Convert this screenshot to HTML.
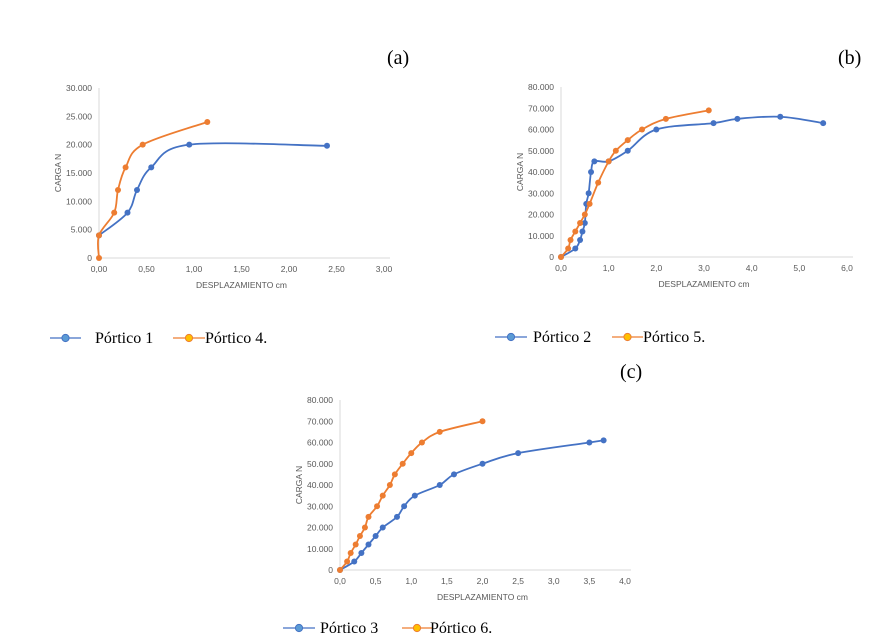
<!DOCTYPE html>
<html><head><meta charset="utf-8">
<style>
body{margin:0;background:#fff;width:894px;height:642px;overflow:hidden;}
svg{display:block;}
.tick{font-family:"Liberation Sans",sans-serif;font-size:8.5px;fill:#595959;}
.ttl{font-family:"Liberation Sans",sans-serif;font-size:8.5px;fill:#595959;}
.leg{font-family:"Liberation Serif",serif;font-size:16px;fill:#000;}
.lab{font-family:"Liberation Serif",serif;font-size:20px;fill:#000;}
</style></head>
<body>
<svg id="s" width="894" height="642">
<text class="lab" x="387" y="64">(a)</text>
<text class="lab" x="838" y="64">(b)</text>
<text class="lab" x="620" y="378">(c)</text>
</svg>
<script>
const BLUE="#4472C4", ORANGE="#ED7D31";
// Chart a
const aXTicks=["0,00","0,50","1,00","1,50","2,00","2,50","3,00"];
const aYTicks=["0","5.000","10.000","15.000","20.000","25.000","30.000"];
const p1x=[0,0.3,0.4,0.55,0.95,2.4];
const p1y=[4000,8000,12000,16000,20000,19800];
const p4x=[0,0,0.16,0.2,0.28,0.46,1.14];
const p4y=[0,4000,8000,12000,16000,20000,24000];
// Chart b
const bXTicks=["0,0","1,0","2,0","3,0","4,0","5,0","6,0"];
const bYTicks=["0","10.000","20.000","30.000","40.000","50.000","60.000","70.000","80.000"];
const p2x=[0,0.3,0.4,0.45,0.5,0.53,0.58,0.63,0.7,1.0,1.4,2.0,3.2,3.7,4.6,5.5];
const p2y=[0,4000,8000,12000,16000,25000,30000,40000,45000,45000,50000,60000,63000,65000,66000,63000];
const p5x=[0,0.15,0.2,0.3,0.4,0.5,0.6,0.78,1.0,1.15,1.4,1.7,2.2,3.1];
const p5y=[0,4000,8000,12000,16000,20000,25000,35000,45000,50000,55000,60000,65000,69000];
// Chart c
const cXTicks=["0,0","0,5","1,0","1,5","2,0","2,5","3,0","3,5","4,0"];
const cYTicks=bYTicks;
const p3x=[0,0.2,0.3,0.4,0.5,0.6,0.8,0.9,1.05,1.4,1.6,2.0,2.5,3.5,3.7];
const p3y=[0,4000,8000,12000,16000,20000,25000,30000,35000,40000,45000,50000,55000,60000,61000];
const p6x=[0,0.1,0.15,0.22,0.28,0.35,0.4,0.52,0.6,0.7,0.77,0.88,1.0,1.15,1.4,2.0];
const p6y=[0,4000,8000,12000,16000,20000,25000,30000,35000,40000,45000,50000,55000,60000,65000,70000];

const svg=document.getElementById('s');
const NS="http://www.w3.org/2000/svg";
function mk(tag,attrs,parent){const e=document.createElementNS(NS,tag);for(const k in attrs)e.setAttribute(k,attrs[k]);(parent||svg).appendChild(e);return e;}
function smooth(pts){
  let d="M"+pts[0][0]+","+pts[0][1];
  for(let i=0;i<pts.length-1;i++){
    const p0=pts[i-1]||pts[i],p1=pts[i],p2=pts[i+1],p3=pts[i+2]||p2;
    const t=0.17;
    const c1=[p1[0]+(p2[0]-p0[0])*t,p1[1]+(p2[1]-p0[1])*t];
    const c2=[p2[0]-(p3[0]-p1[0])*t,p2[1]-(p3[1]-p1[1])*t];
    d+=" C"+c1[0]+","+c1[1]+" "+c2[0]+","+c2[1]+" "+p2[0]+","+p2[1];
  }
  return d;
}
function chart(name,x0,x1,y0,y1,xmax,ymax,xt,yt,series,titleX,titleY){
  const g=mk('g',{});
  
  
  const sx=v=>x0+(x1-x0)*v/xmax, sy=v=>y0-(y0-y1)*v/ymax;
  const ya=mk('line',{x1:x0,y1:y0,x2:x0,y2:y1,stroke:"#d9d9d9","stroke-width":1},g);
  
  
  const xa=mk('line',{x1:x0,y1:y0,x2:x1+6,y2:y0,stroke:"#d9d9d9","stroke-width":1},g);
  
  
  xt.forEach((s,i)=>{const t=mk('text',{class:'tick',x:x0+(x1-x0)*i/(xt.length-1),y:y0+14,'text-anchor':'middle'},g);t.textContent=s;
    
    });
  yt.forEach((s,i)=>{const t=mk('text',{class:'tick',x:x0-7,y:y0-(y0-y1)*i/(yt.length-1)+3,'text-anchor':'end'},g);t.textContent=s;
    
    });
  const tx=mk('text',{class:'ttl',x:(x0+x1)/2,y:y0+30,'text-anchor':'middle'},g);tx.textContent=titleX;
  
  
  const cy=(y0+y1)/2;
  const ty=mk('text',{class:'ttl',x:x0-38,y:cy,'text-anchor':'middle',transform:`rotate(-90 ${x0-38} ${cy})`},g);ty.textContent=titleY;
  
  
  series.forEach(s=>{
    const pts=s.x.map((v,i)=>[sx(v),sy(s.y[i])]);
    const p=mk('path',{d:smooth(pts),fill:'none',stroke:s.c,'stroke-width':1.8},g);
    
    
    pts.forEach(q=>{const c=mk('circle',{cx:q[0],cy:q[1],r:3,fill:s.c},g);
      
      });
  });
}
function legend(items,y){
  items.forEach(it=>{
    const g=mk('g',{});
    
    
    mk('line',{x1:it.l0,y1:y,x2:it.l1,y2:y,stroke:it.c,'stroke-width':1.3},g);
    mk('circle',{cx:(it.l0+it.l1)/2,cy:y,r:3.6,fill:it.f,stroke:it.c,'stroke-width':1},g);
    const t=mk('text',{class:'leg',x:it.tx,y:y+5},g);t.textContent=it.t;
  });
}
chart('chart-a',99,384,258,88,3,30000,aXTicks,aYTicks,[{x:p1x,y:p1y,c:BLUE,n:'portico-1'},{x:p4x,y:p4y,c:ORANGE,n:'portico-4'}],'DESPLAZAMIENTO  cm','CARGA N');
chart('chart-b',561,847,257,87,6,80000,bXTicks,bYTicks,[{x:p2x,y:p2y,c:BLUE,n:'portico-2'},{x:p5x,y:p5y,c:ORANGE,n:'portico-5'}],'DESPLAZAMIENTO  cm','CARGA N');
chart('chart-c',340,625,570,400,4,80000,cXTicks,cYTicks,[{x:p3x,y:p3y,c:BLUE,n:'portico-3'},{x:p6x,y:p6y,c:ORANGE,n:'portico-6'}],'DESPLAZAMIENTO  cm','CARGA N');
legend([{l0:50,l1:81,c:BLUE,f:"#5B9BD5",tx:95,t:"Pórtico 1"},{l0:173,l1:205,c:ORANGE,f:"#FFC000",tx:205,t:"Pórtico 4."}],338);
legend([{l0:495,l1:527,c:BLUE,f:"#5B9BD5",tx:533,t:"Pórtico 2"},{l0:612,l1:643,c:ORANGE,f:"#FFC000",tx:643,t:"Pórtico 5."}],337);
legend([{l0:283,l1:315,c:BLUE,f:"#5B9BD5",tx:320,t:"Pórtico 3"},{l0:402,l1:432,c:ORANGE,f:"#FFC000",tx:430,t:"Pórtico 6."}],628);
</script>
</body></html>
